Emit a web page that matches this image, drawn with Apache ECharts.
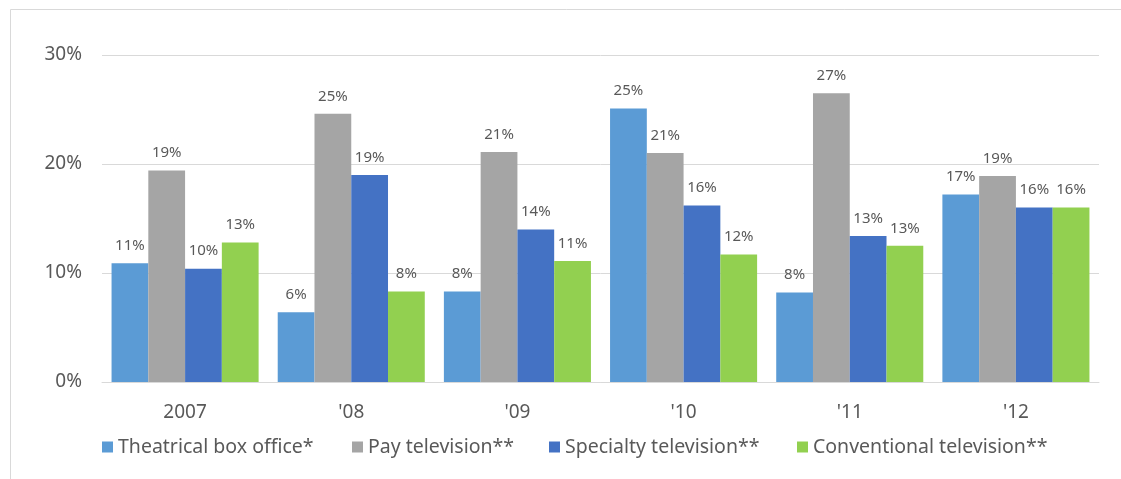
<!DOCTYPE html>
<html>
<head>
<meta charset="utf-8">
<script src="https://cdn.jsdelivr.net/npm/echarts@6/dist/echarts.min.js"></script>
<style>
  html, body { margin: 0; padding: 0; background: #fff; }
  #chart { width: 1121px; height: 479px; }
</style>
</head>
<body>
<div id="chart"></div>
<script>
// Year categories along the x axis
const categories = ['2007', "'08", "'09", "'10", "'11", "'12"];

// Growth rates (%) by revenue stream
const theatrical   = [10.9, 6.4, 8.3, 25.1, 8.2, 17.2];
const payTv        = [19.4, 24.6, 21.1, 21.0, 26.5, 18.9];
const specialtyTv  = [10.4, 19.0, 14.0, 16.2, 13.4, 16.0];
const conventional = [12.8, 8.3, 11.1, 11.7, 12.5, 16.0];

const seriesNames = [
  'Theatrical box office*',
  'Pay television**',
  'Specialty television**',
  'Conventional television**'
];
const seriesColors = ['#5B9BD5', '#A5A5A5', '#4472C4', '#92D050'];
const seriesData = [theatrical, payTv, specialtyTv, conventional];

const textColor = '#595959';
const fontFamily = '"Noto Sans", "Open Sans", sans-serif';

// Left edge of each legend entry along the bottom row
const legendLefts = [97, 347, 544, 792];

const chart = echarts.init(document.getElementById('chart'), null, { renderer: 'canvas' });

chart.setOption({
  animation: false,
  textStyle: { fontFamily: fontFamily },
  graphic: [{
    type: 'rect',
    left: 8, top: 7,
    shape: { width: 1130, height: 490 },
    style: { fill: 'none', stroke: '#d9d9d9', lineWidth: 1 },
    silent: true
  }],
  grid: { left: 102, right: 22, top: 55, bottom: 97, containLabel: false },
  legend: seriesNames.map((name, i) => ({
    top: 432,
    left: legendLefts[i],
    itemWidth: 11,
    itemHeight: 11,
    icon: 'rect',
    textStyle: { color: textColor, fontSize: 19.5, fontFamily: fontFamily },
    data: [name]
  })),
  xAxis: {
    type: 'category',
    data: categories,
    axisLine: { show: true, lineStyle: { color: '#d9d9d9', width: 1 } },
    axisTick: { show: false },
    axisLabel: { color: textColor, fontSize: 19, margin: 21, fontFamily: fontFamily }
  },
  yAxis: {
    type: 'value',
    min: 0,
    max: 30,
    interval: 10,
    axisLine: { show: false },
    axisTick: { show: false },
    splitLine: { lineStyle: { color: '#d9d9d9', width: 1 } },
    axisLabel: { color: textColor, fontSize: 19, margin: 20, formatter: '{value}%', fontFamily: fontFamily }
  },
  series: seriesNames.map((name, i) => ({
    name: name,
    type: 'bar',
    data: seriesData[i],
    barGap: '0%',
    barCategoryGap: '11.5%',
    itemStyle: { color: seriesColors[i] },
    label: {
      show: true,
      position: 'top',
      distance: 10,
      color: textColor,
      fontSize: 15,
      fontFamily: fontFamily,
      formatter: p => Math.round(p.value) + '%'
    }
  }))
});
</script>
</body>
</html>
